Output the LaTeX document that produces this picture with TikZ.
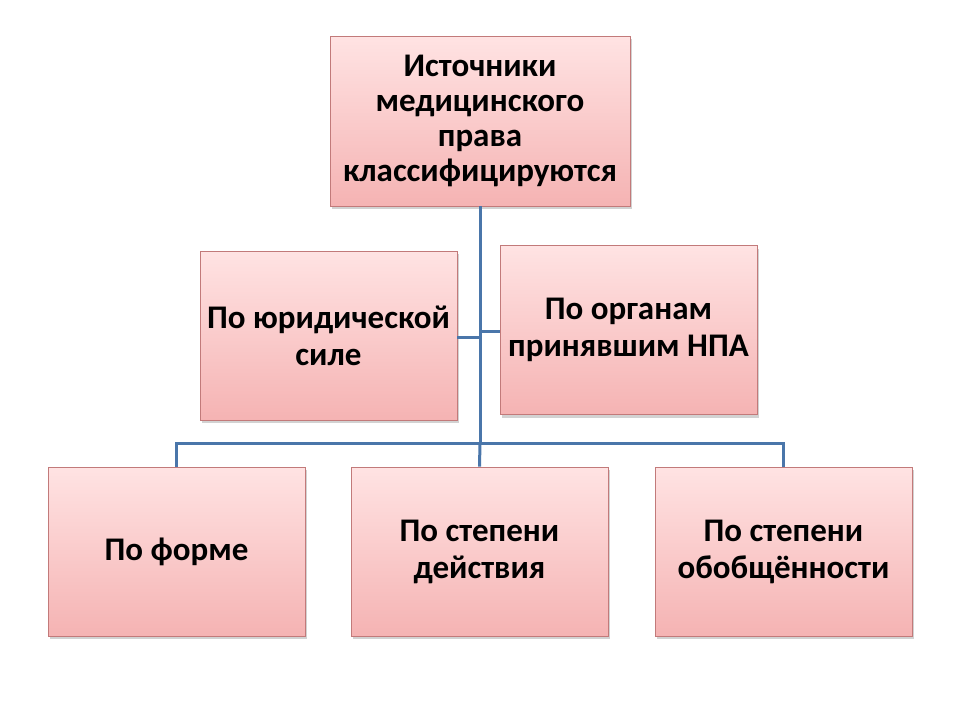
\documentclass[tikz,border=0pt]{standalone}
\usepackage{fontspec}
\setmainfont{Carlito}
\usetikzlibrary{shadows}
\definecolor{boxtop}{HTML}{FFE3E3}
\definecolor{boxbot}{HTML}{F5B3B3}
\definecolor{boxline}{HTML}{C27A7A}
\definecolor{conn}{HTML}{4A76AA}
\tikzset{
  box/.style={draw=boxline, line width=0.9pt, top color=boxtop, bottom color=boxbot,
    minimum width=257pt, minimum height=169pt, inner sep=0pt, align=center,
    font=\fontsize{33}{37}\selectfont\bfseries,
    drop shadow={shadow xshift=2pt, shadow yshift=-3pt, opacity=0.35, fill=gray}},
  link/.style={draw=conn, line width=3pt}
}
\begin{document}
\begin{tikzpicture}[x=1pt,y=-1pt]
\useasboundingbox (0,0) rectangle (960,720);
\fill[white] (0,0) rectangle (960,720);
\node[box, minimum width=300pt, minimum height=170pt, font=\fontsize{33}{35}\selectfont\bfseries] (top) at (480,121) {Источники\\медицинского\\права\\классифицируются};
\node[box] (legal) at (328.5,335.5) {По юридической\\силе};
\node[box] (organ) at (628.5,330) {По органам\\принявшим НПА};
\node[box] (form) at (176.5,551.5) {По форме};
\node[box] (degree) at (479.5,551.5) {По степени\\действия};
\node[box] (general) at (783.5,551.5) {По степени\\обобщённости};
\coordinate (bus) at (480,443);
\draw[link] (top.south) -- (bus);
\draw[link] (legal.east |- 0,337) -- (480,337);
\draw[link] (480,331) -- (organ.west |- 0,331);
\draw[link] (form.north) -- (form.north |- bus) -- (general.north |- bus) -- (general.north);
\draw[link] (bus) -- (degree.north);
\end{tikzpicture}
\end{document}
